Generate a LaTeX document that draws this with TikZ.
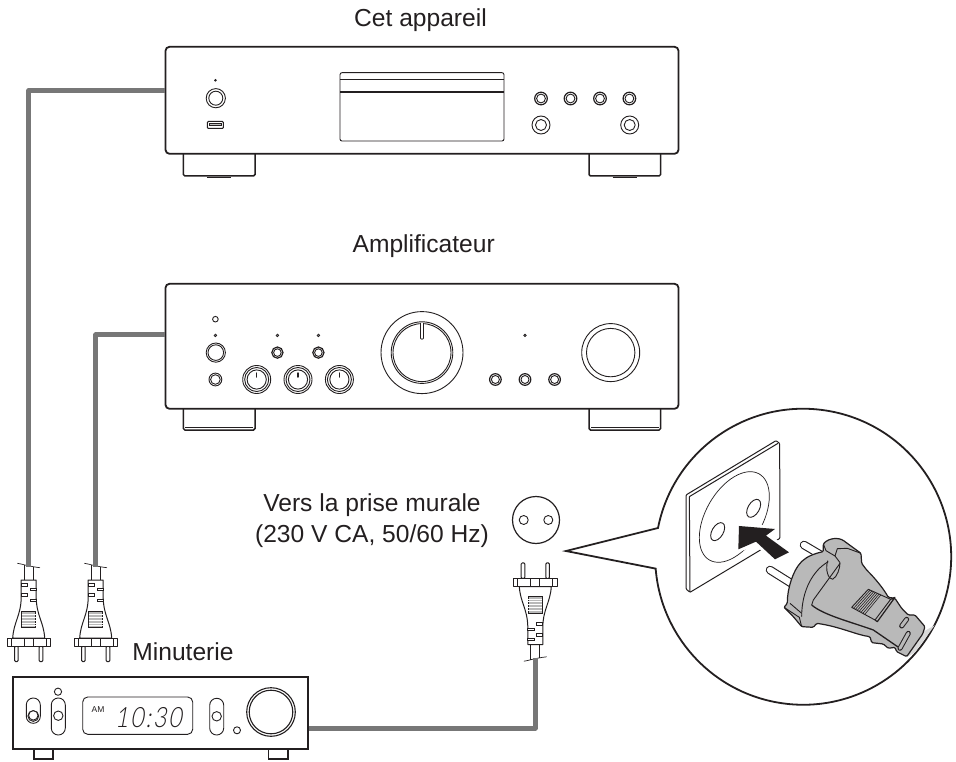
\documentclass[tikz,border=0pt]{standalone}
\usepackage{fontspec}
\setmainfont{Liberation Sans}
\newfontfamily\lcdfont[FakeSlant=0.18,FakeStretch=0.82,LetterSpace=7]{Lato Light}
\usetikzlibrary{positioning}
\definecolor{inkblack}{HTML}{231F20}
\definecolor{cordgray}{HTML}{777777}
\definecolor{pluggray}{HTML}{B9B9B9}
\tikzset{
    mainsplug/.pic={
        \draw[plugline, fill=white] (-16,-4) .. controls (-15,-20) and (-8,-26) .. (-7.5,-44)
            -- (-7.5,-62) -- (7.5,-62) -- (7.5,-44) .. controls (8,-26) and (15,-20) .. (16,-4) -- cycle;
        % patillas
        \foreach \px in {-12.3,12.3} {
            \draw[plugline, fill=white, rounded corners=1.2pt] (\px-1.8,4) -- (\px-1.8,19.7) -- (\px+1.8,19.7) -- (\px+1.8,4) -- cycle;
        }
        \draw[plugline, fill=white] (-21.7,-4) rectangle (21.7,4);
        \draw[thinline] (-17.5,-4) -- (-17.5,4) (-4.5,-4) -- (-4.5,4) (4.5,-4) -- (4.5,4) (17.5,-4) -- (17.5,4);
        % rejilla
        \draw[thinline, fill=gray!55] (-7,-31) rectangle (7,-14.3);
        \foreach \gy in {-28,-25,-22,-19,-16.5} {
            \draw[white, line width=0.8pt] (-7,\gy) -- (7,\gy);
        }
        % muescas
        \foreach \nx/\ny in {-7.5/-57,-7.5/-47,1.2/-52.5,1.2/-41.5} {
            \draw[thinline, fill=white] (\nx,\ny-1.2) rectangle (\nx+6.3,\ny+1.2);
        }
        \draw[plugline] (-4.5,-62) -- (-4.5,-77) (4.5,-62) -- (4.5,-75.5);
        \draw[thinline] (-11.4,-78.7) .. controls (-7,-78) and (-6,-77.5) .. (-3.7,-77) .. controls (1,-76) and (5,-75) .. (11.3,-74.3);
        \coordinate (-cord) at (0,-75);
    },
    plugline/.style={inkblack, line width=1pt, line join=round},
    thinline/.style={inkblack, line width=0.7pt},
    unitbox/.style={draw=inkblack, fill=white, line width=1.8pt, inner sep=0pt, rounded corners=4pt},
    foot/.style={draw=inkblack, fill=white, line width=1.5pt},
    cord/.style={cordgray, line width=4.6pt, line join=round},
    ring/.style={draw=inkblack, line width=0.9pt, fill=white},
    caption/.style={font=\fontsize{24.6}{31}\selectfont, text=inkblack, align=center, inner sep=0pt},
}
\begin{document}
\begin{tikzpicture}[x=1pt, y=-1pt]

    \useasboundingbox (0,0) rectangle (956,762);

    % Etiquetas
    \node[caption, anchor=base] (lblplayer) at (420.5,26.7) {Cet appareil};
    \node[caption, anchor=base] (lblamp) at (423.7,252.7) {Amplificateur};
    \node[caption] (lblwall) at (372,521) {Vers la prise murale\\(230 V CA, 50/60 Hz)};
    \node[caption, anchor=base] (lbltimer) at (183,660) {Minuterie};

    % Cet appareil
    \foreach \fx in {183.4,589} {
        \draw[foot, rounded corners=1.5pt] (\fx,150) -- (\fx,176) -- (\fx+71.6,176) -- (\fx+71.6,150);
        \draw[inkblack, line width=1.5pt] (\fx+23.5,177.6) -- (\fx+48,177.6);
    }
    \node[unitbox, minimum width=513pt, minimum height=107pt] (player) at (422,100.3) {};
    \draw[thinline, line width=0.9pt, rounded corners=2pt] (340,72.7) rectangle (504,141);
    \draw[thinline, line width=0.9pt] (340,79) -- (504,79);
    \draw[inkblack, line width=1.1pt] (340,92) -- (504,92);
    \fill[inkblack] (215.4,80.3) circle[radius=1.4];
    \draw[ring] (215.8,98.2) circle[radius=9.6];
    \draw[ring] (215.8,98.2) circle[radius=7];
    \draw[thinline, line width=1pt, rounded corners=1pt] (207.4,121.5) rectangle (223.4,128.5);
    \draw[thinline, fill=gray!50] (209.5,123.3) rectangle (221.3,125.5);
    \foreach \kx in {541,570.5,600,629.4} {
        \draw[ring, line width=1.2pt] (\kx,98.5) circle[radius=6.3];
        \draw[ring] (\kx,98.5) circle[radius=4.4];
    }
    \foreach \kx in {541,629.7} {
        \draw[ring] (\kx,125) circle[radius=9];
        \draw[ring] (\kx,125) circle[radius=5.5];
    }

    % Amplificateur
    \foreach \fx in {183.4,589} {
        \draw[foot, rounded corners=1.5pt] (\fx,404) -- (\fx,430) -- (\fx+71.6,430) -- (\fx+71.6,404);
        \draw[thinline] (\fx+2,427) -- (\fx+69.6,427);
    }
    \node[unitbox, minimum width=513pt, minimum height=125pt] (amp) at (422,346.3) {};
    \draw[ring] (215.4,319.2) circle[radius=2.8];
    \foreach \dx in {215.4,277.4,318.4,525} {
        \draw[thinline, fill=gray] (\dx,335.4) circle[radius=1.3];
    }
    \draw[ring] (215.8,352.6) circle[radius=9.6];
    \draw[ring] (215.8,352.6) circle[radius=7.8];
    \draw[ring] (215.4,379.5) circle[radius=6.4];
    \draw[ring] (215.4,379.5) circle[radius=4.8];
    \foreach \kx in {256.7,298,339.4} {
        \draw[ring] (\kx,379.5) circle[radius=14];
        \draw[ring] (\kx,379.5) circle[radius=12];
        \draw[ring] (\kx,379.5) circle[radius=9.6];
        \draw[inkblack, line width=1.5pt, line cap=round] (\kx,373) -- (\kx,377);
    }
    \foreach \kx in {277.4,318.4} {
        \draw[ring, line width=1.2pt] (\kx,352.6) circle[radius=5.6];
        \draw[ring] (\kx,352.6) circle[radius=3.8];
    }
    \foreach \kx in {495.4,525,554.6} {
        \draw[ring, line width=1.2pt] (\kx,379.5) circle[radius=5.8];
        \draw[ring] (\kx,379.5) circle[radius=4];
    }
    \draw[ring] (422,352.6) circle[radius=41];
    \draw[ring] (422,352.6) circle[radius=30.8];
    \draw[ring] (422,352.6) circle[radius=29];
    \draw[inkblack, line width=3.2pt, line cap=round] (422,324) -- (422,338);
    \draw[white, line width=1.6pt, line cap=round] (422,323) -- (422,338);
    \draw[ring] (610.7,352.6) circle[radius=29];
    \draw[ring] (610.7,352.6) circle[radius=24.2];

    % Minuterie
    \foreach \fx in {34,268.7} {
        \draw[foot] (\fx,749) rectangle (\fx+19.2,759);
    }
    \node[unitbox, rounded corners=0pt, minimum width=295pt, minimum height=72.6pt] (timer) at (160.8,713) {};
    \draw[ring, rounded corners=6.9pt] (26.3,698) rectangle (40.3,723.3);
    \draw[ring] (33.3,716) circle[radius=5.4];
    \draw[ring] (33.3,715.4) circle[radius=4.7];
    \draw[ring] (58,691.7) circle[radius=3.6];
    \draw[ring, rounded corners=6.9pt] (51.3,698) rectangle (65.3,735);
    \draw[ring] (58.3,715.7) circle[radius=4.7];
    \draw[ring, rounded corners=5pt] (82.7,697) rectangle (192.7,734.3);
    \node[font=\fontsize{8.5}{10}\selectfont, text=inkblack, inner sep=0pt] (lblam) at (98,709.3) {AM};
    \node[font=\lcdfont\fontsize{28}{30}\selectfont, text=inkblack, inner sep=0pt] (lcdtime) at (148.5,717.5) {10:30};
    \draw[ring, rounded corners=6.9pt] (209.7,698.3) rectangle (223.7,735);
    \draw[ring] (216.7,716.3) circle[radius=4.7];
    \draw[ring] (237,730.3) circle[radius=3.5];
    \draw[ring, line width=1.1pt] (271,712) circle[radius=24.3];
    \draw[ring, line width=1.1pt] (271,712) circle[radius=21.8];

    % Fiches
    \pic (plugA) at (28.7,642) {mainsplug};
    \pic (plugB) at (95.7,642) {mainsplug};
    \pic[yscale=-1] (plugC) at (535.3,582.5) {mainsplug};

    % Cordons
    \coordinate (playerout) at (165,90.6);
    \coordinate (ampout) at (165,334.7);
    \coordinate (timerout) at (308.5,728.3);
    \draw[cord] (playerout) -| (plugA-cord);
    \draw[cord] (ampout) -| (plugB-cord);
    \draw[cord] (timerout) -| (plugC-cord);

    % Prise murale
    \node[draw=inkblack, line width=1.2pt, circle, inner sep=0pt, minimum size=47pt] (outlet) at (536,520) {};
    \draw[ring] (523.7,520) circle[radius=4.5];
    \draw[ring] (548.3,520) circle[radius=4.5];

    % Loupe
    \coordinate (callouttip) at (566,551);
    \draw[draw=inkblack, fill=white, line width=1.8pt, line join=miter]
        (callouttip) -- (658,528) arc[start angle=191.2, end angle=535.4, radius=148] -- cycle;

    % Plaque murale
    \begin{scope}[shift={(640,390)}, x=0.3333pt, y=-0.3333pt]
        \draw[plugline, fill=white, rounded corners=1pt] (138,315) -- (408,152) -- (419,160) -- (420,445) -- (150,607) -- (138,597) -- cycle;
        \draw[plugline] (148,320) -- (414,160);
        \draw[plugline] (148,320) -- (150,607);
        \draw[thinline, cm={1,0.59,0,1,(283,381)}] (0,0) ellipse[x radius=105, y radius=121];
        \draw[thinline, line width=0.9pt, cm={1,0.59,0,1,(341,355)}] (0,0) ellipse[x radius=21, y radius=24];
        \draw[thinline, line width=0.9pt, cm={1,0.59,0,1,(233,425)}] (0,0) ellipse[x radius=21, y radius=24];
        % Fleche
        \draw[white, line width=6pt, line join=round] (297,408) -- (405,417) -- (378,437) -- (447,487) -- (405,508) -- (348,455) -- (295,478) -- cycle;
        \fill[inkblack] (297,408) -- (405,417) -- (378,437) -- (447,487) -- (405,508) -- (348,455) -- (295,478) -- cycle;
    \end{scope}

    % Fiche de la loupe
    \begin{scope}[shift={(760,520)}, x=0.3333pt, y=-0.3333pt]
        \fill[gray!30] (490,335) -- (524,316) -- (466,396) -- (440,412) -- cycle;
        \draw[inkblack, line width=8.5pt, line cap=round] (30,150) -- (105,197);
        \draw[white, line width=6.3pt, line cap=round] (30,150) -- (105,197);
        \draw[inkblack, line width=8.5pt, line cap=round] (132,75) -- (205,118);
        \draw[white, line width=6.3pt, line cap=round] (132,75) -- (205,118);
        \draw[plugline, line width=1.2pt, fill=pluggray, rounded corners=1.2pt]
            (72,262) -- (82,250) .. controls (82,205) and (100,150) .. (125,125)
            .. controls (140,110) and (165,100) .. (190,95) -- (190,72)
            .. controls (205,55) and (235,50) .. (255,65) -- (303,100) -- (305,130) -- (320,150)
            .. controls (345,175) and (370,205) .. (385,232) -- (405,235) -- (425,265)
            -- (445,285) -- (465,285) -- (495,320) -- (488,342) -- (440,410) -- (410,395)
            -- (405,382) -- (385,385) -- (370,372) -- (335,368) -- (330,350)
            .. controls (290,345) and (240,320) .. (170,310) -- (160,322) -- (125,320) -- (100,290) -- cycle;
        % Aretes
        \draw[plugline, line width=0.9pt] (205,125) .. controls (160,150) and (125,210) .. (125,290);
        \draw[plugline, line width=0.9pt] (240,130) -- (160,240) -- (155,255);
        \draw[plugline, line width=1.3pt] (155,255) .. controls (190,285) and (270,305) .. (340,330) -- (420,385);
        \draw[plugline, line width=0.9pt] (203,122) .. controls (195,150) and (205,178) .. (218,178) .. controls (232,170) and (240,145) .. (240,128);
        \draw[plugline, line width=0.9pt] (190,72) -- (198,92) -- (225,108) -- (232,86) -- (262,85) -- (303,100);
        \draw[plugline, line width=0.9pt] (225,108) -- (240,128);
        \draw[plugline, line width=0.9pt] (72,262) -- (118,292) -- (125,320);
        \draw[plugline, line width=0.9pt] (90,250) -- (125,280);
        % Rejilla
        \draw[plugline, line width=0.9pt] (275,262) -- (325,208) -- (392,238) -- (345,300) -- cycle;
        \draw[plugline, line width=1.2pt] (392,238) -- (405,232) -- (352,305) -- (345,300);
        \foreach \t in {0.08,0.16,...,0.64} {
            \draw[thinline, line width=0.6pt] ({275+\t*70},{262+\t*38}) -- ({325+\t*67},{208+\t*30});
        }
        % Muescas
        \draw[inkblack, line width=5pt, line cap=round] (425,318) -- (440,298);
        \draw[pluggray, line width=3pt, line cap=round] (425,318) -- (440,298);
        \draw[inkblack, line width=5pt, line cap=round] (420,385) -- (445,340);
        \draw[pluggray, line width=3pt, line cap=round] (420,385) -- (445,340);
    \end{scope}

\end{tikzpicture}
\end{document}
